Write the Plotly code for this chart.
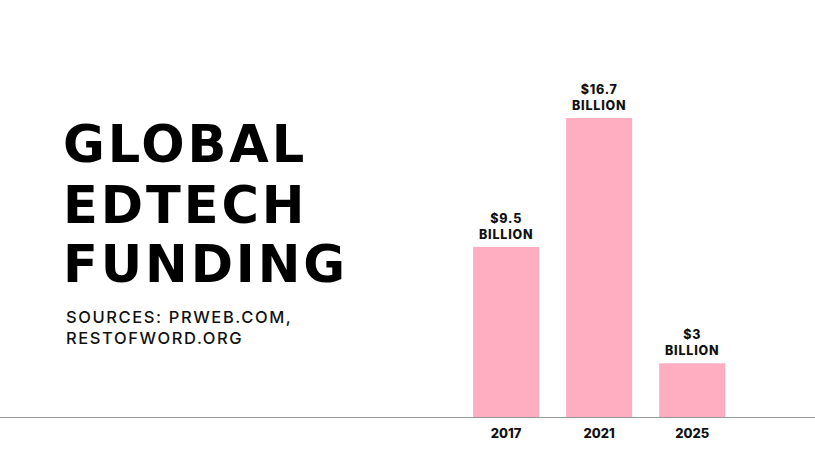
import plotly.graph_objects as go

# ---- data ----
years = ["2017", "2021", "2025"]
funding_billion = [9.5, 16.7, 3]
unit_label = "BILLION"
title_lines = ["GLOBAL", "EDTECH", "FUNDING"]
source_lines = ["SOURCES: PRWEB.COM,", "RESTOFWORD.ORG"]

W, H = 815, 458
BOTTOM = 41           # px below the baseline
PLOT_H = H - BOTTOM   # plot area height (top margin 0)
BAR_COLOR = "#FFADC1"
FONT = "Inter"
TITLE_FONT = "DejaVu Sans"

def py(px):
    """convert pixel y (from top) to paper y"""
    return (PLOT_H - px) / PLOT_H

def pxx(px):
    return px / W

def spaced(txt, ls):
    return f'<span style="letter-spacing:{ls}px">{txt}</span>'

fig = go.Figure(
    go.Bar(
        x=years,
        y=funding_billion,
        marker=dict(color=BAR_COLOR, line=dict(width=0)),
        hoverinfo="skip",
    )
)

annotations = []
# value labels above bars
for i, v in enumerate(funding_billion):
    annotations.append(dict(
        x=i, y=v, xref="x", yref="y",
        text=spaced(f"${v:g}", 0.8) + "<br>" + spaced(unit_label, 0.8),
        showarrow=False, xanchor="center", yanchor="bottom", yshift=3,
        font=dict(family=FONT, size=12.5, color="#111111", weight=800),
    ))

# big title
title_centers = [145, 205.5, 264]
for line, cy in zip(title_lines, title_centers):
    annotations.append(dict(
        x=pxx(61), y=py(cy), xref="paper", yref="paper", text=spaced(line, 2.9),
        showarrow=False, xanchor="left", yanchor="middle",
        font=dict(family=TITLE_FONT, size=51, color="#000000", weight="bold"),
    ))

# sources
src_centers = [316.5, 337.5]
for line, cy in zip(source_lines, src_centers):
    annotations.append(dict(
        x=pxx(64), y=py(cy), xref="paper", yref="paper", text=spaced(line, 1.6),
        showarrow=False, xanchor="left", yanchor="middle",
        font=dict(family=FONT, size=16.5, color="#111111", weight=500),
    ))

fig.update_layout(
    width=W, height=H,
    margin=dict(l=0, r=0, t=0, b=BOTTOM, pad=0),
    paper_bgcolor="white", plot_bgcolor="white",
    bargap=0.29,
    showlegend=False,
    annotations=annotations,
    xaxis=dict(
        type="category", range=[-5.44, 3.32],
        showline=True, linecolor="#999999", linewidth=1,
        showgrid=False, zeroline=False, ticks="",
        ticklabelstandoff=4,
        tickfont=dict(family=FONT, size=13, color="#111111", weight=800),
        fixedrange=True,
    ),
    yaxis=dict(
        range=[0, 23.29], visible=False, showgrid=False, zeroline=False,
        fixedrange=True,
    ),
)

fig.write_html("out.html", config={"displayModeBar": False})
